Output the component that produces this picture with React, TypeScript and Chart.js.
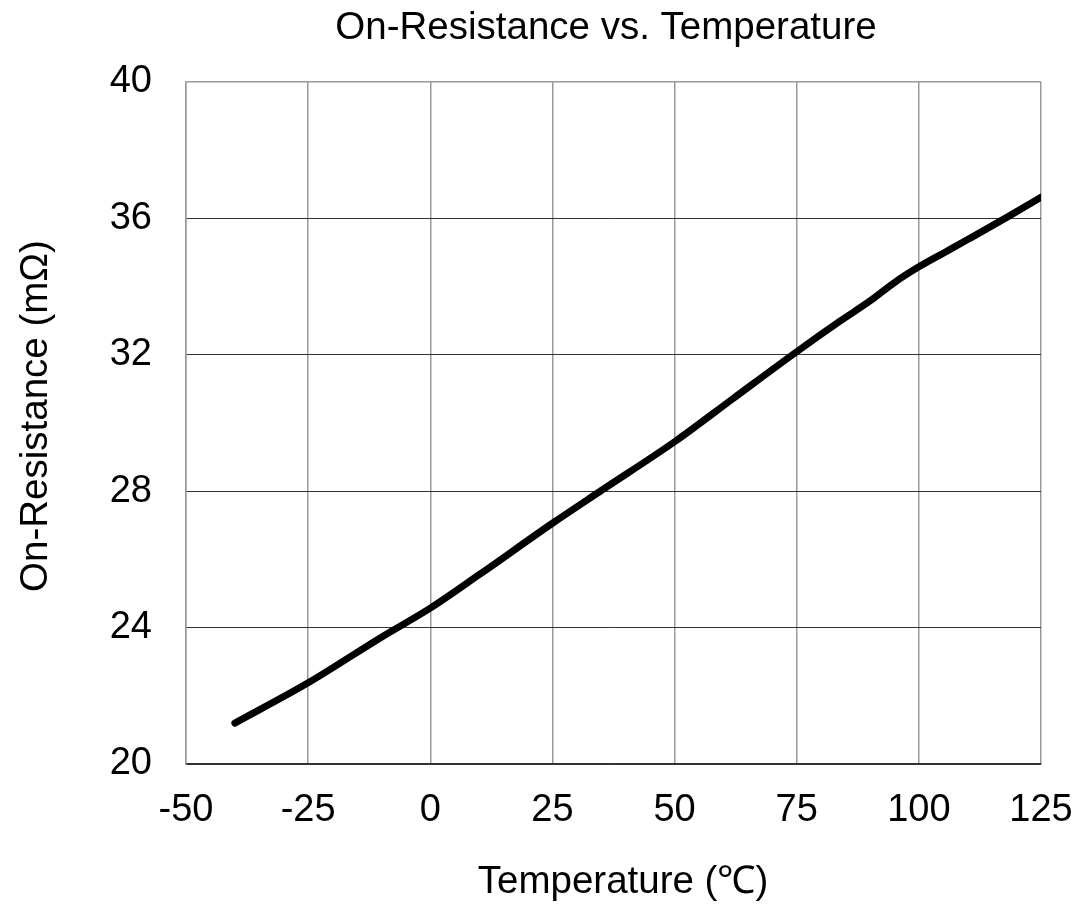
import React, { useEffect, useRef } from "react";
import { Chart, registerables } from "chart.js";

Chart.register(...registerables);

const temperatures = [-40, -25, -10, 0, 10, 25, 35, 50, 62, 75, 84, 90, 95, 100, 105, 110, 118, 125];
const resistance = [21.2, 22.38, 23.72, 24.57, 25.55, 27.06, 28.02, 29.45, 30.72, 32.09, 33.0, 33.58, 34.12, 34.58, 34.98, 35.38, 36.03, 36.62];

const xTicks = [-50, -25, 0, 25, 50, 75, 100, 125];
const yTicks = [20, 24, 28, 32, 36, 40];

const chartTitle = "On-Resistance vs. Temperature";
const xTitle = "Temperature (\u2103)";
const yTitle = "On-Resistance (m\u03A9)";

const FONT = "'Liberation Sans', Arial, sans-serif";

export default function App() {
  const ref = useRef<HTMLCanvasElement | null>(null);

  useEffect(() => {
    document.body.style.margin = "0";
    const canvas = ref.current;
    if (!canvas) return;

    const titlesPlugin = {
      id: "customTitles",
      afterDraw(chart: any) {
        const ctx = chart.ctx;
        ctx.save();
        ctx.fillStyle = "#000";
        ctx.textAlign = "center";
        ctx.textBaseline = "middle";
        ctx.font = `38.5px ${FONT}`;
        ctx.fillText(chartTitle, 606, 28);
        ctx.fillText(xTitle, 623, 882);
        ctx.translate(36, 416);
        ctx.rotate(-Math.PI / 2);
        ctx.fillText(yTitle, 0, 0);
        ctx.restore();
      },
    };

    const chart = new Chart(canvas, {
      type: "line",
      data: {
        datasets: [
          {
            data: temperatures.map((t, i) => ({ x: t, y: resistance[i] })),
            borderColor: "#000",
            borderWidth: 7,
            borderCapStyle: "round",
            borderJoinStyle: "round",
            pointRadius: 0,
            cubicInterpolationMode: "monotone",
            fill: false,
          },
        ],
      },
      options: {
        responsive: false,
        animation: false,
        devicePixelRatio: 1,
        layout: { padding: { top: 82, right: 39, left: 0, bottom: 0 } },
        plugins: {
          legend: { display: false },
          title: { display: false },
          tooltip: { enabled: false },
        },
        scales: {
          x: {
            type: "linear",
            min: -50,
            max: 125,
            afterFit: (s: any) => {
              s.height = 152;
              s.paddingLeft = 0;
              s.paddingRight = 0;
            },
            afterBuildTicks: (s: any) => {
              s.ticks = xTicks.map((v) => ({ value: v }));
            },
            ticks: {
              color: "#000",
              font: { family: FONT, size: 38 },
              padding: 24,
              maxRotation: 0,
              autoSkip: false,
            },
            grid: {
              color: "#999",
              lineWidth: 1.5,
              drawTicks: false,
            },
            border: { display: true, color: "#333", width: 1.5 },
          },
          y: {
            type: "linear",
            min: 20,
            max: 40,
            afterFit: (s: any) => {
              s.width = 186;
              s.paddingTop = 0;
              s.paddingBottom = 0;
            },
            afterBuildTicks: (s: any) => {
              s.ticks = yTicks.map((v) => ({ value: v }));
            },
            ticks: {
              color: "#000",
              font: { family: FONT, size: 38 },
              padding: 34,
              autoSkip: false,
            },
            grid: {
              color: (c: any) => (c.tick && c.tick.value === 40 ? "#999" : "#333"),
              lineWidth: (c: any) => (c.tick && c.tick.value === 40 ? 1.5 : 1),
              drawTicks: false,
            },
            border: { display: true, color: "#999", width: 1.5 },
          },
        },
      },
      plugins: [titlesPlugin],
    } as any);

    return () => chart.destroy();
  }, []);

  return (
    <div style={{ width: 1080, height: 916, background: "#fff" }}>
      <canvas ref={ref} width={1080} height={916} style={{ display: "block" }} />
    </div>
  );
}
